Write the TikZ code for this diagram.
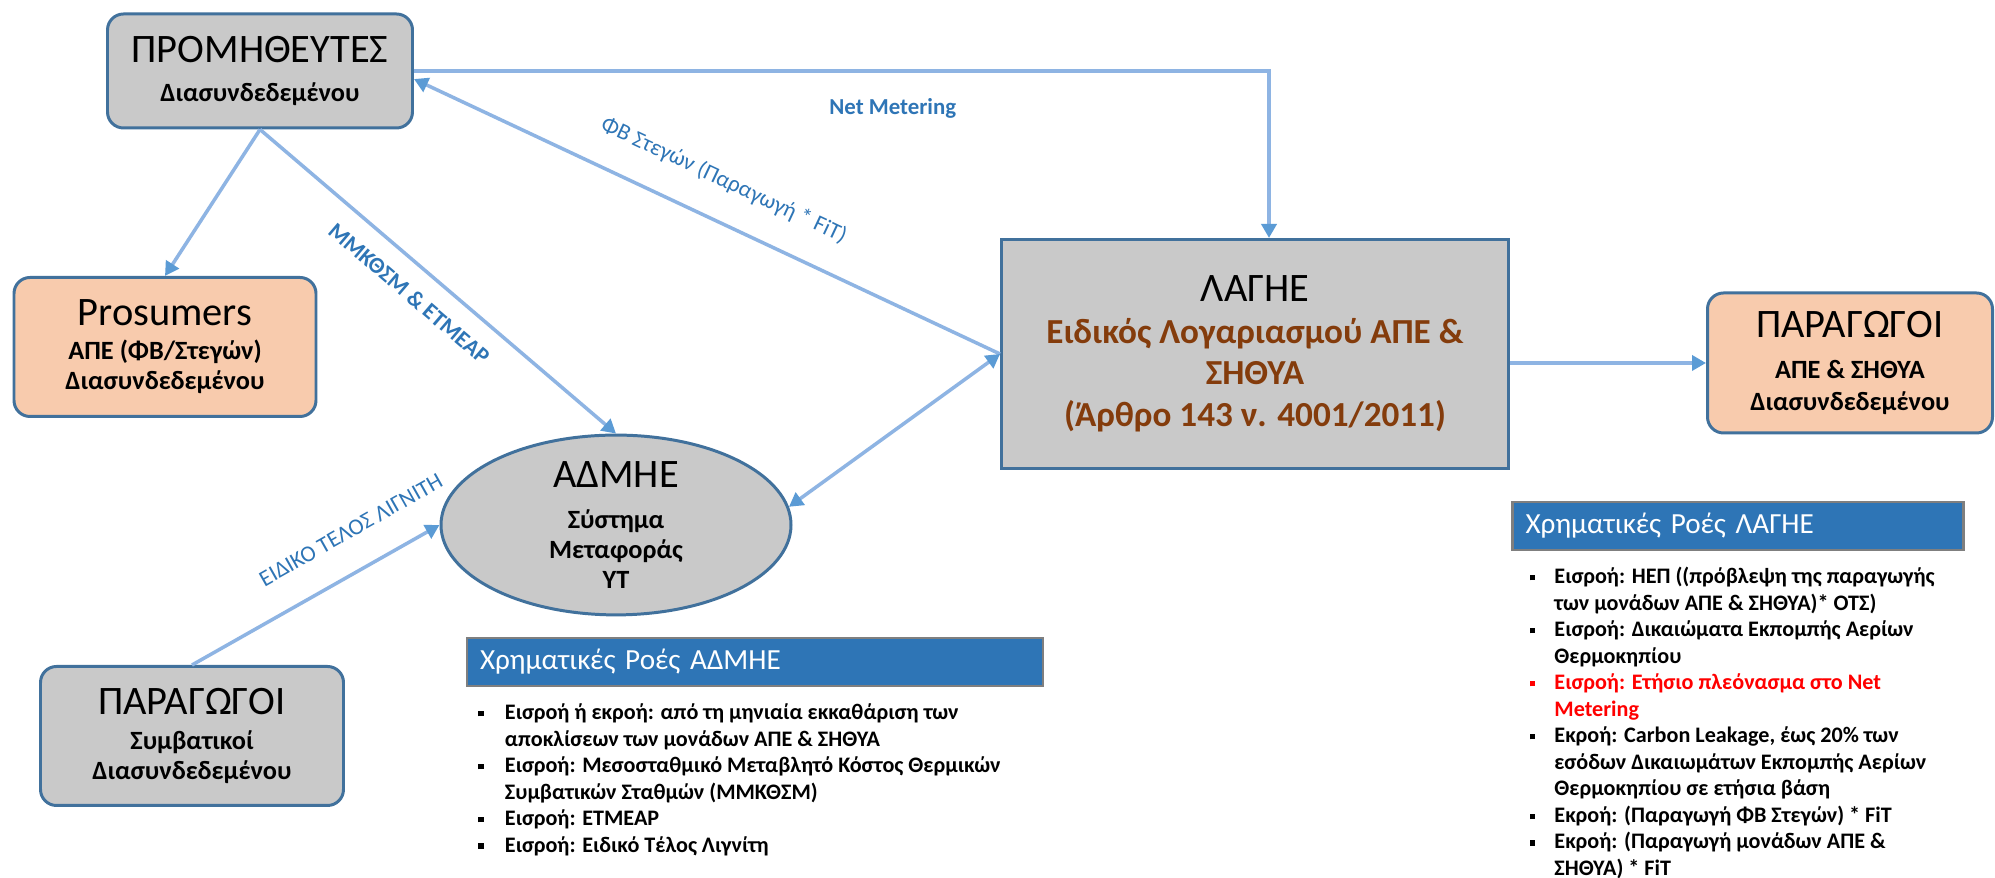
\documentclass[tikz,border=0pt]{standalone}
\usepackage{fontspec}
\setmainfont{Carlito}
\usepackage{tikz}
\usetikzlibrary{arrows.meta,positioning,calc,shapes.geometric}

\definecolor{boxgrey}{HTML}{C9C9C9}
\definecolor{boxpeach}{HTML}{F8CBAD}
\definecolor{boxline}{HTML}{41719C}
\definecolor{flowline}{HTML}{8EB4E3}
\definecolor{tipblue}{HTML}{5B9BD5}
\definecolor{labelblue}{HTML}{2E75B6}
\definecolor{headblue}{HTML}{2E75B6}
\definecolor{headline}{HTML}{7F7F7F}
\definecolor{lagiebrown}{HTML}{843C0C}
\definecolor{netred}{HTML}{FF0000}

\newcommand{\ttlfont}{\fontsize{11.5}{13}\selectfont\mdseries}
\newcommand{\subfont}{\fontsize{7.5}{8.6}\selectfont\bfseries}
\newcommand{\lagiefont}{\fontsize{10}{11.8}\selectfont\bfseries}
\newcommand{\bul}{\rule[0.3ex]{0.55mm}{0.55mm}}

\tikzset{
  greybox/.style={draw=boxline, fill=boxgrey, line width=0.85pt, rounded corners=1.6mm, align=center, inner sep=0pt, font=\subfont},
  peachbox/.style={greybox, fill=boxpeach},
  flow/.style={draw=flowline, line width=1pt, -{Triangle[length=1.4mm, width=1.5mm, color=tipblue]}},
  flowboth/.style={flow, {Triangle[length=1.4mm, width=1.5mm, color=tipblue]}-{Triangle[length=1.4mm, width=1.5mm, color=tipblue]}},
  flowlabel/.style={text=labelblue, font=\fontsize{6.5}{7.5}\selectfont, inner sep=0pt},
  flowhead/.style={draw=headline, line width=0.7pt, fill=headblue, text=white, font=\fontsize{8.3}{10}\selectfont, align=left, inner xsep=1.3mm, inner ysep=0pt, minimum height=4.8mm},
  flowlist/.style={inner sep=0pt, font=\fontsize{6.3}{7.55}\selectfont\bfseries}
}

\begin{document}
\begin{tikzpicture}[x=0.1mm, y=-0.1mm]
    \fill[white] (0,0) rectangle (1995,878);
    \useasboundingbox (0,0) rectangle (1995,878);

    % boxes
    \node[greybox, minimum width=30.5mm, minimum height=11.4mm] (prom) at (260,71) {{\ttlfont ΠΡΟΜΗΘΕΥΤΕΣ}\\[2.5pt] Διασυνδεδεμένου};
    \node[peachbox, minimum width=30.2mm, minimum height=13.9mm] (pros) at (165,347) {{\ttlfont Prosumers}\\[1pt] ΑΠΕ (ΦΒ/Στεγών)\\ Διασυνδεδεμένου};
    \node[greybox, ellipse, minimum width=35mm, minimum height=16.4mm] (admie) at (616,525) {{\ttlfont ΑΔΜΗΕ}\\[3pt] Σύστημα\\ Μεταφοράς\\ ΥΤ};
    \node[greybox, minimum width=30.3mm, minimum height=13.9mm] (parconv) at (192,736) {{\ttlfont ΠΑΡΑΓΩΓΟΙ}\\[1.5pt] Συμβατικοί\\ Διασυνδεδεμένου};
    \node[greybox, rounded corners=0pt, minimum width=50.7mm, minimum height=22.9mm, font=\lagiefont, text=lagiebrown] (lagie) at (1255,354) {\textcolor{black}{\ttlfont ΛΑΓΗΕ}\\ Ειδικός Λογαριασμού ΑΠΕ \&\\ ΣΗΘΥΑ\\ (Άρθρο 143 ν. 4001/2011)};
    \node[peachbox, minimum width=28.5mm, minimum height=14mm] (parres) at (1850,363) {{\ttlfont ΠΑΡΑΓΩΓΟΙ}\\[3pt] ΑΠΕ \& ΣΗΘΥΑ\\[0.5pt] Διασυνδεδεμένου};

    % flows
    \coordinate (nmturn) at (1269,71);
    \draw[flow] (prom.east) -- node[flowlabel, font=\fontsize{6.5}{7.5}\selectfont\bfseries, below=2.6mm, pos=.56] (nmlabel) {Net Metering} (nmturn) -- (nmturn |- lagie.north);
    \draw[flow] (lagie.west) -- node[flowlabel, above=2.8mm, sloped, pos=.5] (fblabel) {ΦΒ Στεγών (Παραγωγή * FiT)} (prom.-3);
    \draw[flow] (prom.south) -- (pros.north);
    \draw[flow] (prom.south) -- node[flowlabel, font=\fontsize{6.5}{7.5}\selectfont\bfseries, below=1.8mm, sloped, pos=.47] (mmklabel) {ΜΜΚΘΣΜ \& ΕΤΜΕΑΡ} (admie.north);
    \draw[flow] (parconv.north) -- node[flowlabel, above=3mm, sloped, pos=.72] (liglabel) {ΕΙΔΙΚΟ ΤΕΛΟΣ ΛΙΓΝΙΤΗ} (admie.west);
    \draw[flowboth] (admie.6) -- (lagie.west);
    \draw[flow] (lagie.east |- parres.west) -- (parres.west);

    % money flows
    \node[flowhead, text width=55mm] (admiehead) at (755,662) {Χρηματικές Ροές ΑΔΜΗΕ};
    \node[flowlist, below right=1.3mm and 1.2mm of admiehead.south west] (admielist) {%
        \begin{tabular}{@{}l@{\hspace{2.1mm}}l@{}}
        \bul & Εισροή ή εκροή: από τη μηνιαία εκκαθάριση των\\
             & αποκλίσεων των μονάδων ΑΠΕ \& ΣΗΘΥΑ\\
        \bul & Εισροή: Μεσοσταθμικό Μεταβλητό Κόστος Θερμικών\\
             & Συμβατικών Σταθμών (ΜΜΚΘΣΜ)\\
        \bul & Εισροή: ΕΤΜΕΑΡ\\
        \bul & Εισροή: Ειδικό Τέλος Λιγνίτη
        \end{tabular}};

    \node[flowhead, text width=42.5mm] (lagiehead) at (1738,526) {Χρηματικές Ροές ΛΑΓΗΕ};
    \node[flowlist, below right=1.3mm and 1.8mm of lagiehead.south west] (lagielist) {%
        \begin{tabular}{@{}l@{\hspace{1.9mm}}l@{}}
        \bul & Εισροή: ΗΕΠ ((πρόβλεψη της παραγωγής\\
             & των μονάδων ΑΠΕ \& ΣΗΘΥΑ)* ΟΤΣ)\\
        \bul & Εισροή: Δικαιώματα Εκπομπής Αερίων\\
             & Θερμοκηπίου\\
        \textcolor{netred}{\bul} & \textcolor{netred}{Εισροή: Ετήσιο πλεόνασμα στο Net}\\
             & \textcolor{netred}{Metering}\\
        \bul & Εκροή: Carbon Leakage, έως 20\% των\\
             & εσόδων Δικαιωμάτων Εκπομπής Αερίων\\
             & Θερμοκηπίου σε ετήσια βάση\\
        \bul & Εκροή: (Παραγωγή ΦΒ Στεγών) * FiT\\
        \bul & Εκροή: (Παραγωγή μονάδων ΑΠΕ \&\\
             & ΣΗΘΥΑ) * FiT
        \end{tabular}};
\end{tikzpicture}
\end{document}
